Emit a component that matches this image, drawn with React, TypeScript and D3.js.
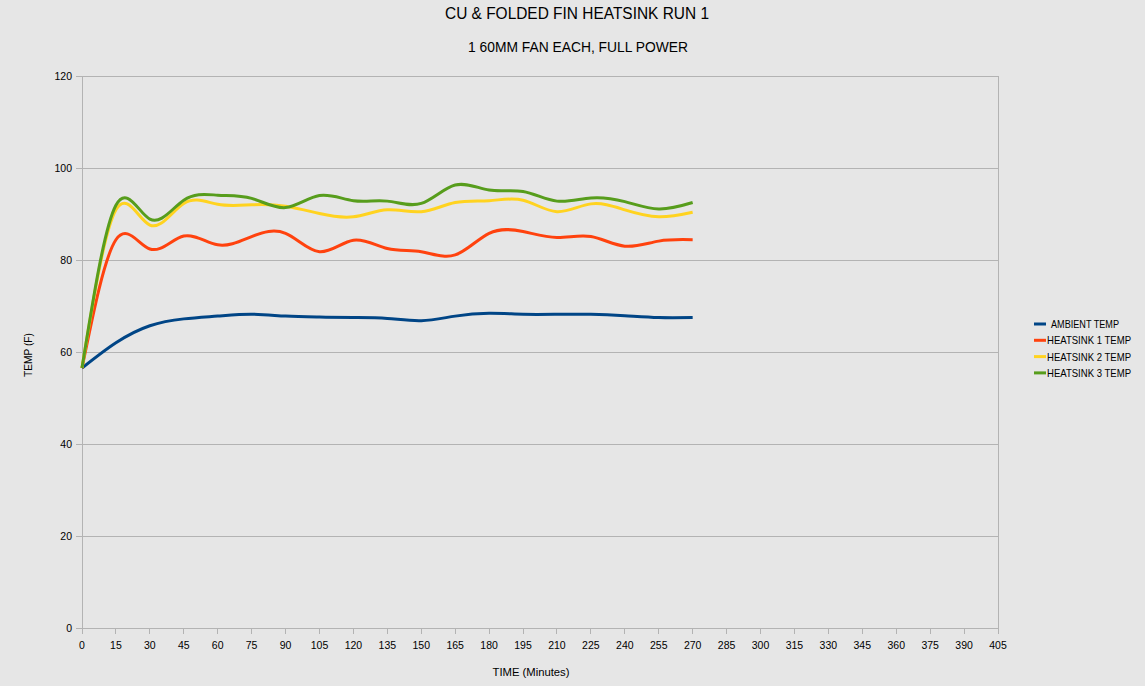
import React from "react";
import * as d3 from "d3";

// Sample times (minutes) and temperature readings (°F)
const times = [0, 15, 30, 45, 60, 75, 90, 105, 120, 135, 150, 165, 180, 195, 210, 225, 240, 255, 270];
const ambient = [56.5, 62.0, 65.7, 67.2, 67.8, 68.2, 67.8, 67.6, 67.5, 67.3, 66.8, 67.8, 68.4, 68.2, 68.2, 68.2, 67.9, 67.5, 67.5];
const heatsink1 = [56.5, 84.4, 82.4, 85.2, 83.3, 85.1, 85.8, 81.8, 84.3, 82.5, 81.8, 81.1, 85.8, 86.2, 84.9, 85.1, 83.0, 84.1, 84.4];
const heatsink2 = [56.5, 90.9, 87.6, 92.3, 92.1, 92.0, 91.7, 90.1, 89.4, 90.9, 90.5, 92.5, 92.9, 93.0, 90.5, 92.2, 90.9, 89.4, 90.4];
const heatsink3 = [56.5, 91.9, 88.9, 93.0, 94.1, 93.4, 91.4, 94.0, 92.9, 92.8, 92.3, 96.3, 95.2, 94.9, 92.8, 93.5, 92.7, 91.1, 92.5];

const seriesNames = ["AMBIENT TEMP", "HEATSINK 1 TEMP", "HEATSINK 2 TEMP", "HEATSINK 3 TEMP"];
const seriesColors = ["#004586", "#ff420e", "#ffd320", "#579d1c"];
const seriesValues = [ambient, heatsink1, heatsink2, heatsink3];

const xTicks = d3.range(0, 406, 15);
const yTicks = [0, 20, 40, 60, 80, 100, 120];

const W = 1145;
const H = 686;
const left = 82;
const right = 998;
const top = 76;
const bottom = 628;

const font = "'Liberation Sans', Arial, sans-serif";

export default function App() {
  const x = d3.scaleLinear().domain([0, 405]).range([left, right]);
  const y = d3.scaleLinear().domain([0, 120]).range([bottom, top]);
  const line = d3
    .line<number>()
    .x((_, i) => x(times[i]))
    .y((v) => y(v))
    .curve(d3.curveNatural);

  return (
    <svg
      width={W}
      height={H}
      style={{ position: "absolute", left: 0, top: 0, display: "block" }}
      fontFamily={font}
    >
      <rect width={W} height={H} fill="#e6e6e6" />

      {/* titles */}
      <text x={577} y={19} textAnchor="middle" fontSize={16} textLength={264} lengthAdjust="spacingAndGlyphs" fill="#000">
        CU &amp; FOLDED FIN HEATSINK RUN 1
      </text>
      <text x={578} y={52} textAnchor="middle" fontSize={14} textLength={220} lengthAdjust="spacingAndGlyphs" fill="#000">
        1 60MM FAN EACH, FULL POWER
      </text>

      {/* horizontal grid */}
      {yTicks.map((t) => (
        <line key={"g" + t} x1={left} x2={right} y1={y(t)} y2={y(t)} stroke="#b3b3b3" strokeWidth={1} shapeRendering="crispEdges" />
      ))}
      {/* plot border on the right, axis line on the left */}
      <line x1={right} x2={right} y1={top} y2={bottom} stroke="#b3b3b3" shapeRendering="crispEdges" />
      <line x1={left} x2={left} y1={top} y2={bottom + 6} stroke="#b3b3b3" shapeRendering="crispEdges" />

      {/* y ticks */}
      {yTicks.map((t) => (
        <g key={"y" + t}>
          <line x1={left - 6} x2={left} y1={y(t)} y2={y(t)} stroke="#b3b3b3" shapeRendering="crispEdges" />
          <text x={left - 10} y={y(t) + 4} textAnchor="end" fontSize={10.5} fill="#000">
            {t}
          </text>
        </g>
      ))}

      {/* x ticks */}
      {xTicks.map((t) => (
        <g key={"x" + t}>
          <line x1={x(t)} x2={x(t)} y1={bottom} y2={bottom + 6} stroke="#b3b3b3" shapeRendering="crispEdges" />
          <text x={x(t)} y={bottom + 21} textAnchor="middle" fontSize={10.5} fill="#000">
            {t}
          </text>
        </g>
      ))}

      {/* axis titles */}
      <text x={531} y={676} textAnchor="middle" fontSize={11} textLength={77} lengthAdjust="spacingAndGlyphs" fill="#000">
        TIME (Minutes)
      </text>
      <text
        transform={`translate(32, 355) rotate(-90)`}
        textAnchor="middle"
        fontSize={11}
        textLength={44}
        lengthAdjust="spacingAndGlyphs"
        fill="#000"
      >
        TEMP (F)
      </text>

      {/* series */}
      {seriesValues.map((vals, i) => (
        <path key={"s" + i} d={line(vals) ?? ""} fill="none" stroke={seriesColors[i]} strokeWidth={3} strokeLinejoin="round" />
      ))}

      {/* legend */}
      {seriesNames.map((name, i) => {
        const ly = 324 + i * 16.3;
        return (
          <g key={"l" + i}>
            <line x1={1034} x2={1046} y1={ly} y2={ly} stroke={seriesColors[i]} strokeWidth={3} />
            <text
              x={i === 0 ? 1051 : 1047}
              y={ly + 4}
              fontSize={10.5}
              textLength={i === 0 ? 68 : 84}
              lengthAdjust="spacingAndGlyphs"
              fill="#000"
            >
              {name}
            </text>
          </g>
        );
      })}
    </svg>
  );
}
